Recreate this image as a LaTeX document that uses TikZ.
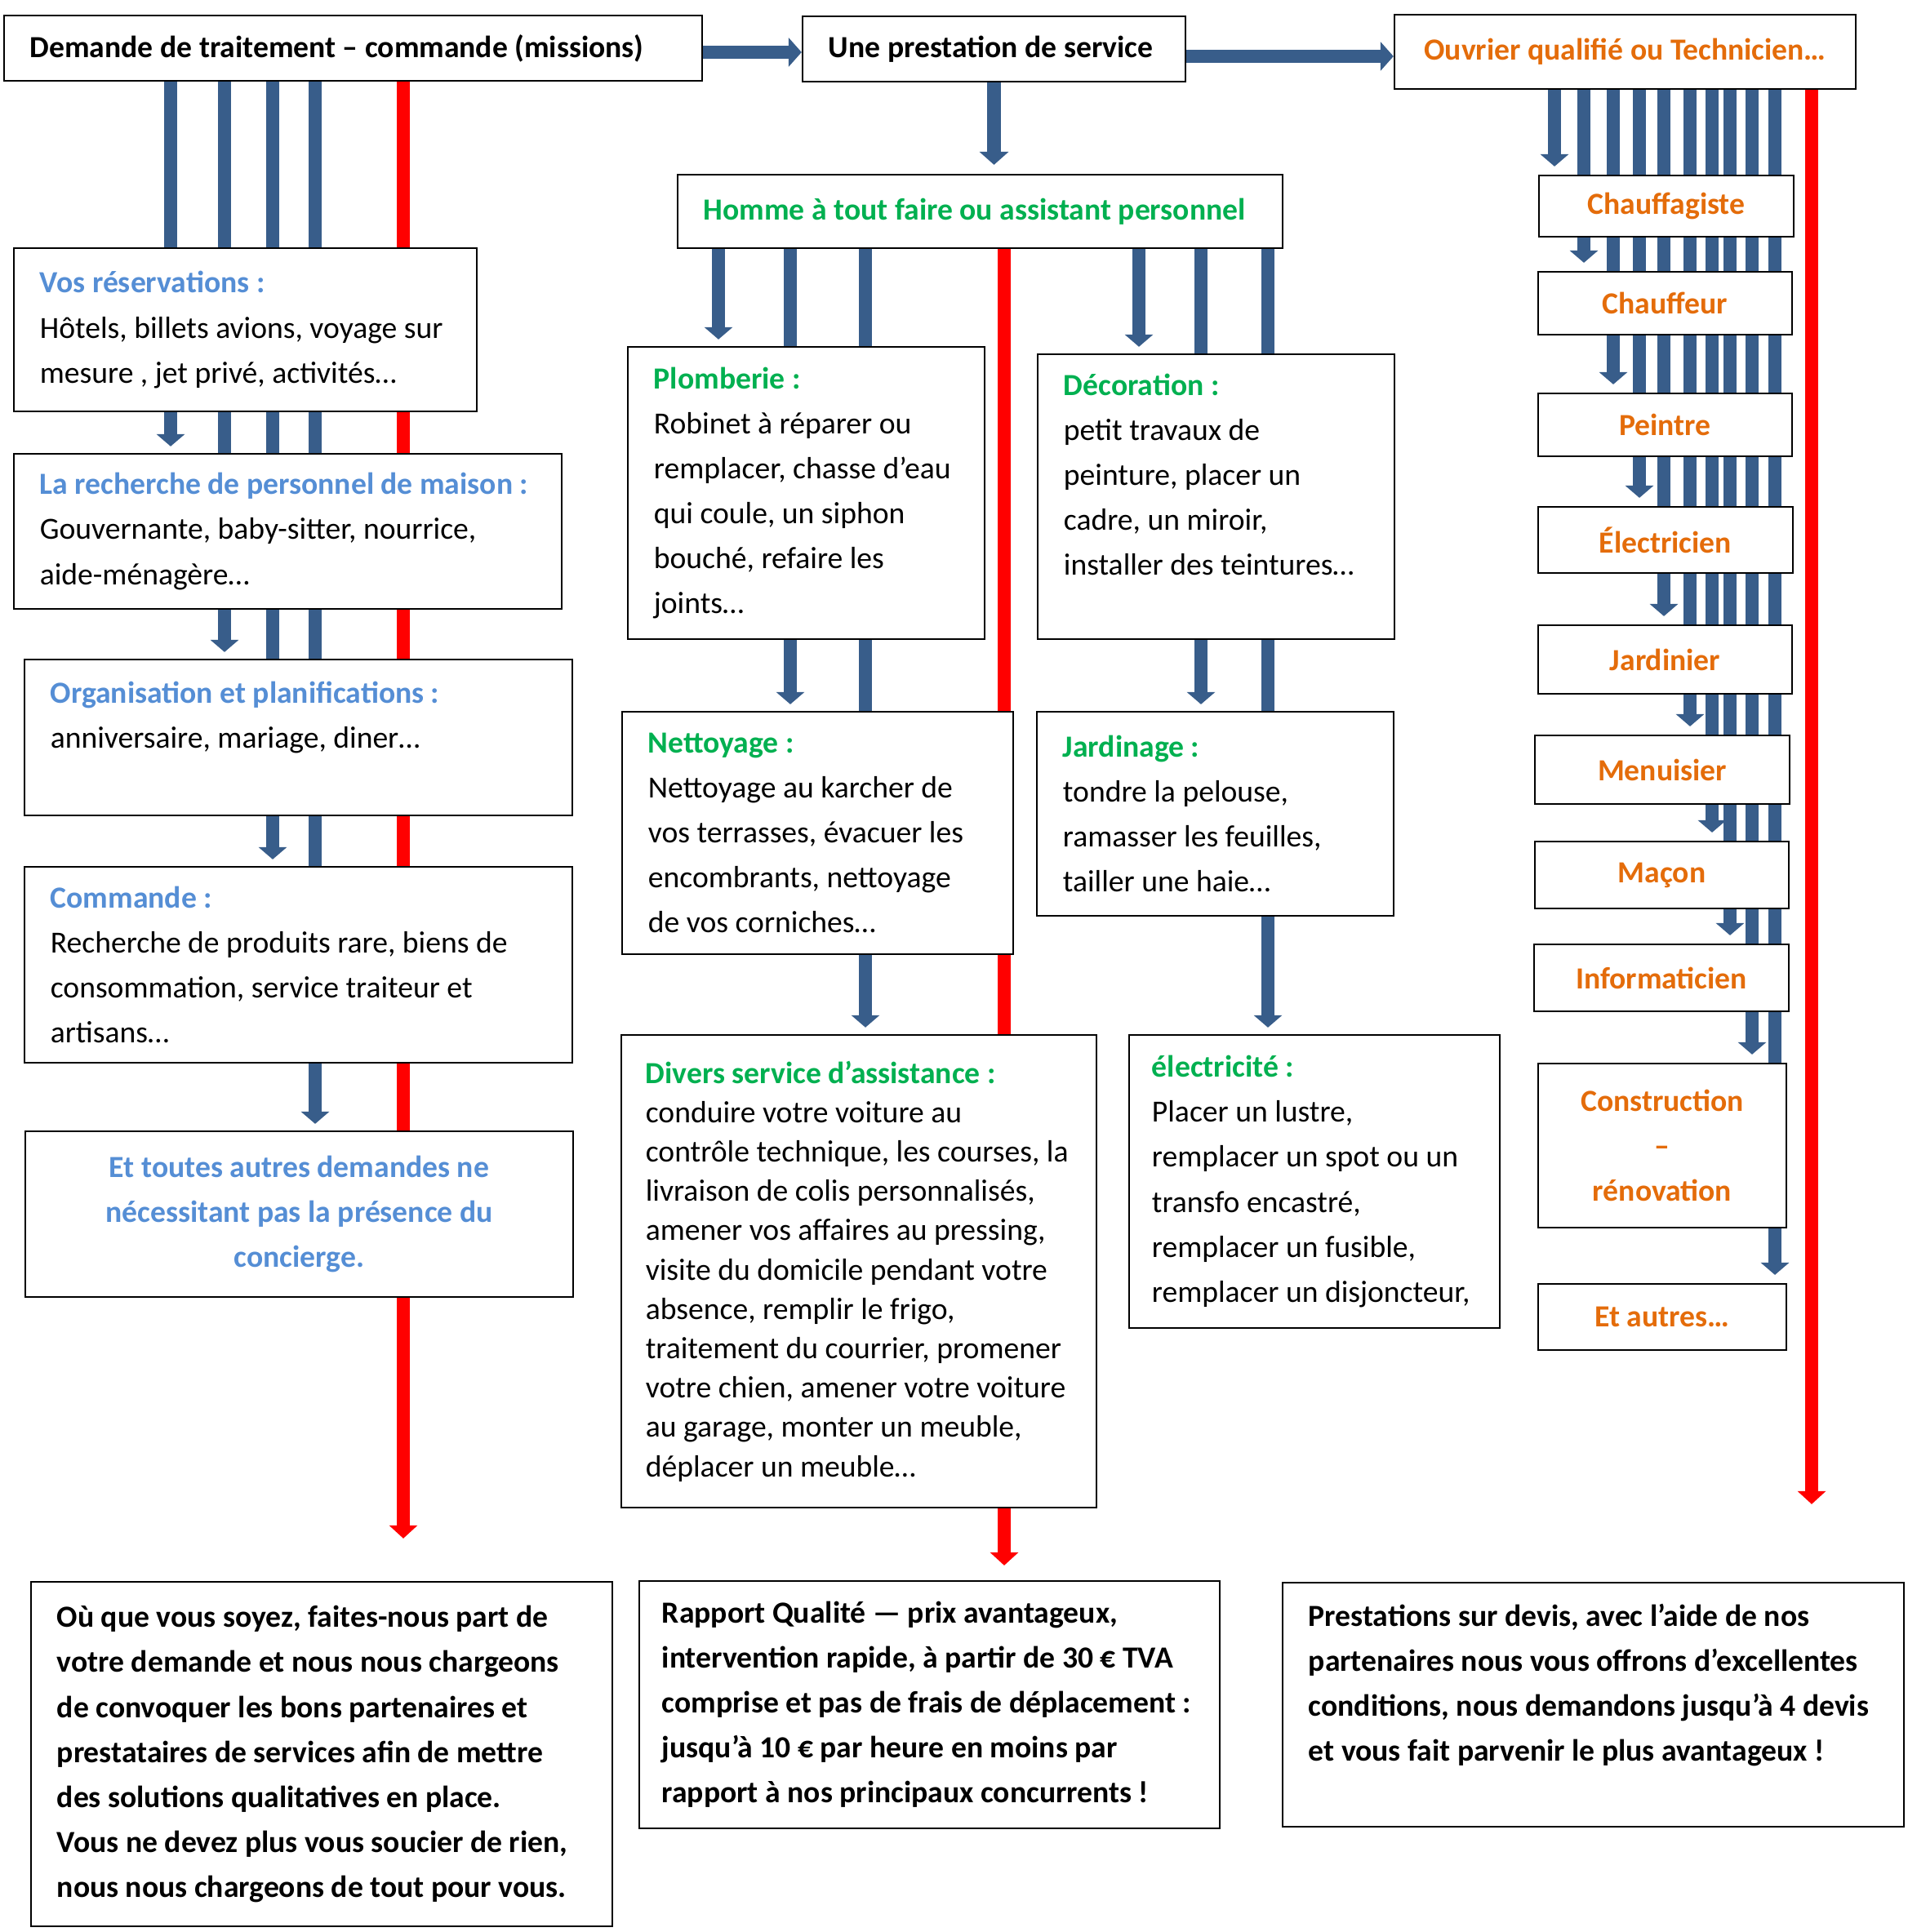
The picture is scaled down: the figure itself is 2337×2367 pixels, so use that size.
\documentclass[tikz,border=0pt]{standalone}
\usepackage{fontspec}
\setmainfont{Carlito}
\usepackage{xcolor}
\usepackage{tikz}
\usetikzlibrary{arrows.meta,backgrounds}

\definecolor{lineblue}{RGB}{56,93,138}
\definecolor{headblue}{RGB}{85,142,213}
\definecolor{headgreen}{RGB}{0,176,80}
\definecolor{headorange}{RGB}{228,108,10}

\newcommand{\bodyfont}{\fontsize{10.7}{15.65}\selectfont}
\newcommand{\hblue}[1]{\textcolor{headblue}{\textbf{#1}}}
\newcommand{\hgreen}[1]{\textcolor{headgreen}{\textbf{#1}}}

\tikzset{
  box/.style={draw, rectangle, line width=0.6pt, fill=white, inner xsep=0.32cm, inner ysep=0pt, align=flush left, font=\bodyfont},
  jobbox/.style={box, align=flush center, font=\bodyfont\bfseries, text=headorange, minimum width=3.11cm},
  endbox/.style={box, font=\bodyfont\bfseries},
  blueline/.style={draw=lineblue, line width=0.155cm},
  bluearrow/.style={blueline, -{Triangle[width=0.34cm,length=0.15cm]}, shorten >=0.08cm},
  redarrow/.style={draw=red, line width=0.16cm, -{Triangle[width=0.34cm,length=0.16cm]}},
  bigarrow/.style={draw=lineblue, line width=0.165cm, -{Triangle[width=0.35cm,length=0.16cm]}}
}

\begin{document}
\begin{tikzpicture}[x=0.01cm, y=-0.01cm]
\useasboundingbox (0,0) rectangle (2337,2367);

% top row
\node[box, font=\bodyfont\bfseries, text width=7.91cm, minimum height=0.80cm] (demande) at (432.5,59) {Demande de traitement – commande (missions)};
\node[box, font=\bodyfont\bfseries, text width=4.05cm, minimum height=0.80cm] (prestation) at (1217.5,60) {Une prestation de service};
\node[box, font=\bodyfont\bfseries, text=headorange, align=flush center, minimum width=5.65cm, minimum height=0.91cm] (ouvrier) at (1990.5,63.5) {Ouvrier qualifié ou Technicien…};
\node[box, font=\bodyfont\bfseries, text=headgreen, text width=6.77cm, minimum height=0.90cm] (homme) at (1200.5,259) {Homme à tout faire ou assistant personnel};

% left column
\node[box, text width=5.03cm, minimum height=2.00cm] (resa) at (300.5,404) {\hblue{Vos réservations :}\\Hôtels, billets avions, voyage sur\\mesure , jet privé, activités…};
\node[box, text width=6.07cm, minimum height=1.90cm] (personnel) at (352.5,651) {\hblue{La recherche de personnel de maison :}\\Gouvernante, baby-sitter, nourrice,\\aide-ménagère…};
\node[box, text width=6.07cm, minimum height=1.91cm] (orga) at (365.5,903.5) {\hblue{Organisation et planifications :}\\anniversaire, mariage, diner…\\ \mbox{}};
\node[box, text width=6.07cm, minimum height=2.40cm] (commande) at (365.5,1182) {\hblue{Commande :}\\Recherche de produits rare, biens de\\consommation, service traiteur et\\artisans…};
\node[box, align=flush center, font=\bodyfont\bfseries, text=headblue, text width=6.07cm, minimum height=2.03cm] (autres) at (366.5,1487.5) {Et toutes autres demandes ne\\nécessitant pas la présence du\\concierge.};

% middle columns
\node[box, text width=3.73cm, minimum height=3.58cm] (plomberie) at (987.5,604) {\hgreen{Plomberie :}\\Robinet à réparer ou\\remplacer, chasse d’eau\\qui coule, un siphon\\bouché, refaire les\\joints…};
\node[box, text width=3.73cm, minimum height=3.49cm] (deco) at (1489.5,608.5) {\hgreen{Décoration :}\\petit travaux de\\peinture, placer un\\cadre, un miroir,\\installer des teintures…\\ \mbox{}};
\node[box, text width=4.15cm, minimum height=2.97cm] (nettoyage) at (1001.5,1020.5) {\hgreen{Nettoyage :}\\Nettoyage au karcher de\\vos terrasses, évacuer les\\encombrants, nettoyage\\de vos corniches…};
\node[box, text width=3.73cm, minimum height=2.50cm] (jardinage) at (1488.5,997) {\hgreen{Jardinage :}\\tondre la pelouse,\\ramasser les feuilles,\\tailler une haie…};
\node[box, font=\fontsize{10.7}{13.7}\selectfont, inner xsep=0.30cm, text width=5.22cm, minimum height=5.79cm] (divers) at (1052,1557.5) {\hgreen{Divers service d’assistance :}\\conduire votre voiture au\\contrôle technique, les courses, la\\livraison de colis personnalisés,\\amener vos affaires au pressing,\\visite du domicile pendant votre\\absence, remplir le frigo,\\traitement du courrier, promener\\votre chien, amener votre voiture\\au garage, monter un meuble,\\déplacer un meuble…};
\node[box, inner xsep=0.28cm, text width=3.98cm, minimum height=3.59cm] (electricite) at (1610,1447.5) {\hgreen{électricité :}\\Placer un lustre,\\remplacer un spot ou un\\transfo encastré,\\remplacer un fusible,\\remplacer un disjoncteur,};

% right column
\node[jobbox, minimum height=0.75cm] (chauffagiste) at (2041,252.5) {Chauffagiste};
\node[jobbox, minimum height=0.77cm] (chauffeur) at (2039.5,371.5) {Chauffeur};
\node[jobbox, minimum height=0.77cm] (peintre) at (2039.5,520.5) {Peintre};
\node[jobbox, minimum height=0.81cm] (electricien) at (2040,661.5) {Électricien};
\node[jobbox, minimum height=0.84cm] (jardinier) at (2039.5,808) {Jardinier};
\node[jobbox, minimum height=0.84cm] (menuisier) at (2036,943) {Menuisier};
\node[jobbox, minimum height=0.82cm] (macon) at (2035.5,1072) {Maçon};
\node[jobbox, minimum height=0.82cm] (informaticien) at (2035,1198) {Informaticien};
\node[jobbox, minimum width=3.04cm, minimum height=2.01cm] (construction) at (2036,1403.5) {Construction\\–\\rénovation};
\node[jobbox, minimum width=3.04cm, minimum height=0.81cm] (etautres) at (2036,1613.5) {Et autres…};

% bottom row
\node[endbox, text width=6.48cm, minimum height=4.22cm] (partenaires) at (394,2149) {Où que vous soyez, faites-nous part de\\votre demande et nous nous chargeons\\de convoquer les bons partenaires et\\prestataires de services afin de mettre\\des solutions qualitatives en place.\\Vous ne devez plus vous soucier de rien,\\nous nous chargeons de tout pour vous.};
\node[endbox, inner xsep=0.28cm, text width=6.55cm, minimum height=3.03cm] (rapport) at (1138.5,2088.5) {Rapport Qualité — prix avantageux,\\intervention rapide, à partir de 30 € TVA\\comprise et pas de frais de déplacement :\\jusqu’à 10 € par heure en moins par\\rapport à nos principaux concurrents !};
\node[endbox, text width=6.97cm, minimum height=2.99cm] (devis) at (1951.5,2088.5) {Prestations sur devis, avec l’aide de nos\\partenaires nous vous offrons d’excellentes\\conditions, nous demandons jusqu’à 4 devis\\et vous fait parvenir le plus avantageux !\\ \mbox{}};

\begin{scope}[on background layer]
\draw[bigarrow] ([yshift=-0.05cm]demande.east) -- ([yshift=-0.05cm]demande.east -| prestation.west);
\draw[bigarrow] ([yshift=-0.09cm]prestation.east) -- ([yshift=-0.09cm]prestation.east -| ouvrier.west);
\draw[bigarrow, shorten >=0.11cm] (prestation.south) -- (prestation.south |- homme.north);

\foreach \x/\target in {209/personnel, 275/orga, 334/commande, 386/autres}
  \draw[bluearrow] (\x,0 |- demande.south) -- (\x,0 |- \target.north);
\draw[redarrow, shorten >=0.52cm] (494,0 |- demande.south) -- (494,0 |- partenaires.north);

\foreach \x/\target in {880/plomberie, 968/nettoyage, 1060/divers, 1395/deco, 1471/jardinage, 1553/electricite}
  \draw[bluearrow] (\x,0 |- homme.south) -- (\x,0 |- \target.north);
\draw[redarrow, shorten >=0.18cm] (1230,0 |- homme.south) -- (1230,0 |- rapport.north);

\foreach \x/\target in {1904/chauffagiste, 1940/chauffeur, 1976/peintre, 2008/electricien, 2038/jardinier, 2070/menuisier, 2097/macon, 2119/informaticien, 2146/construction, 2174/etautres}
  \draw[bluearrow, shorten >=0.1cm] (\x,0 |- ouvrier.south) -- (\x,0 |- \target.north);
\draw[redarrow, shorten >=0.95cm] (2219,0 |- ouvrier.south) -- (2219,0 |- devis.north);
\end{scope}
\end{tikzpicture}
\end{document}
